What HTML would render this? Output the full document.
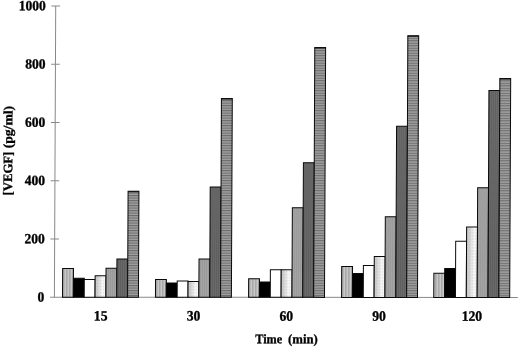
<!DOCTYPE html>
<html><head><meta charset="utf-8"><title>VEGF chart</title>
<style>
html,body{margin:0;padding:0;background:#fff;}
body{width:520px;height:347px;overflow:hidden;}
svg{display:block;}
text{font-family:"Liberation Serif","Times New Roman",serif;font-weight:bold;font-size:13px;fill:#000;stroke:#000;stroke-width:0.3px;}
</style></head><body>
<svg width="520" height="347" viewBox="0 0 520 347">
<defs>
<pattern id="p1" width="3" height="3" patternUnits="userSpaceOnUse"><rect width="3" height="3" fill="#c8c8c8"/><rect width="1.5" height="3" fill="#a8a8a8"/></pattern>
<linearGradient id="g4" x1="0" y1="0" x2="1" y2="0"><stop offset="0" stop-color="#c4c4c4"/><stop offset="0.35" stop-color="#dadada"/><stop offset="0.65" stop-color="#f4f4f4"/><stop offset="1" stop-color="#fbfbfb"/></linearGradient>
<pattern id="p4" width="3" height="3" patternUnits="userSpaceOnUse"><rect x="1" y="1" width="1.2" height="1.2" fill="#888" fill-opacity="0.3"/></pattern>
<pattern id="p5" width="2" height="2" patternUnits="userSpaceOnUse"><rect width="2" height="2" fill="#a6a6a6"/><rect width="1" height="2" fill="#9a9a9a"/></pattern>
<pattern id="p6" width="2" height="2" patternUnits="userSpaceOnUse"><rect width="2" height="2" fill="#6c6c6c"/><rect width="1" height="2" fill="#5e5e5e"/></pattern>
<pattern id="p7" width="2.5" height="2.5" patternUnits="userSpaceOnUse"><rect width="2.5" height="2.5" fill="#a2a2a2"/><rect width="2.5" height="1.1" fill="#6c6c6c"/></pattern>
</defs>
<rect width="520" height="347" fill="#fff"/>
<g transform="matrix(1,0.00065,-0.0045,1,1.337,-0.035)">

<g stroke="#888" stroke-width="1" fill="none">
<line x1="54.4" y1="6.0" x2="54.4" y2="297.2"/>
<line x1="50.1" y1="297.2" x2="517.8" y2="297.2"/>
<line x1="50.1" y1="6.0" x2="58.7" y2="6.0"/>
<line x1="50.1" y1="64.2" x2="58.7" y2="64.2"/>
<line x1="50.1" y1="122.5" x2="58.7" y2="122.5"/>
<line x1="50.1" y1="180.7" x2="58.7" y2="180.7"/>
<line x1="50.1" y1="239.0" x2="58.7" y2="239.0"/>
</g>
<g stroke="#0a0a0a" stroke-width="1">
<rect x="62.50" y="268.50" width="10.85" height="28.70" fill="url(#p1)"/>
<rect x="73.35" y="278.20" width="10.85" height="19.00" fill="#000"/>
<rect x="84.20" y="279.40" width="10.85" height="17.80" fill="#fff"/>
<rect x="95.05" y="275.70" width="10.85" height="21.50" fill="url(#g4)"/>
<rect x="95.55" y="276.20" width="9.85" height="20.50" fill="url(#p4)" stroke="none"/>
<rect x="105.90" y="268.20" width="10.85" height="29.00" fill="url(#p5)"/>
<rect x="116.75" y="258.90" width="10.85" height="38.30" fill="url(#p6)"/>
<rect x="127.60" y="191.20" width="10.85" height="106.00" fill="url(#p7)"/>
<rect x="127.60" y="191.20" width="10.85" height="1.0" fill="#111" stroke="none"/>
<rect x="155.45" y="279.40" width="10.85" height="17.80" fill="url(#p1)"/>
<rect x="166.30" y="283.00" width="10.85" height="14.20" fill="#000"/>
<rect x="177.15" y="280.80" width="10.85" height="16.40" fill="#fff"/>
<rect x="188.00" y="281.40" width="10.85" height="15.80" fill="url(#g4)"/>
<rect x="188.50" y="281.90" width="9.85" height="14.80" fill="url(#p4)" stroke="none"/>
<rect x="198.85" y="258.80" width="10.85" height="38.40" fill="url(#p5)"/>
<rect x="209.70" y="187.00" width="10.85" height="110.20" fill="url(#p6)"/>
<rect x="220.55" y="98.40" width="10.85" height="198.80" fill="url(#p7)"/>
<rect x="220.55" y="98.40" width="10.85" height="1.0" fill="#111" stroke="none"/>
<rect x="248.55" y="278.50" width="10.85" height="18.70" fill="url(#p1)"/>
<rect x="259.40" y="281.80" width="10.85" height="15.40" fill="#000"/>
<rect x="270.25" y="269.60" width="10.85" height="27.60" fill="#fff"/>
<rect x="281.10" y="269.60" width="10.85" height="27.60" fill="url(#g4)"/>
<rect x="281.60" y="270.10" width="9.85" height="26.60" fill="url(#p4)" stroke="none"/>
<rect x="291.95" y="207.50" width="10.85" height="89.70" fill="url(#p5)"/>
<rect x="302.80" y="162.50" width="10.85" height="134.70" fill="url(#p6)"/>
<rect x="313.65" y="47.30" width="10.85" height="249.90" fill="url(#p7)"/>
<rect x="313.65" y="47.30" width="10.85" height="1.0" fill="#111" stroke="none"/>
<rect x="341.55" y="266.40" width="10.85" height="30.80" fill="url(#p1)"/>
<rect x="352.40" y="273.20" width="10.85" height="24.00" fill="#000"/>
<rect x="363.25" y="265.30" width="10.85" height="31.90" fill="#fff"/>
<rect x="374.10" y="256.20" width="10.85" height="41.00" fill="url(#g4)"/>
<rect x="374.60" y="256.70" width="9.85" height="40.00" fill="url(#p4)" stroke="none"/>
<rect x="384.95" y="216.60" width="10.85" height="80.60" fill="url(#p5)"/>
<rect x="395.80" y="126.00" width="10.85" height="171.20" fill="url(#p6)"/>
<rect x="406.65" y="35.40" width="10.85" height="261.80" fill="url(#p7)"/>
<rect x="406.65" y="35.40" width="10.85" height="1.0" fill="#111" stroke="none"/>
<rect x="433.75" y="273.10" width="10.85" height="24.10" fill="url(#p1)"/>
<rect x="444.60" y="268.30" width="10.85" height="28.90" fill="#000"/>
<rect x="455.45" y="241.00" width="10.85" height="56.20" fill="#fff"/>
<rect x="466.30" y="226.80" width="10.85" height="70.40" fill="url(#g4)"/>
<rect x="466.80" y="227.30" width="9.85" height="69.40" fill="url(#p4)" stroke="none"/>
<rect x="477.15" y="187.50" width="10.85" height="109.70" fill="url(#p5)"/>
<rect x="488.00" y="90.30" width="10.85" height="206.90" fill="url(#p6)"/>
<rect x="498.85" y="78.10" width="10.85" height="219.10" fill="url(#p7)"/>
<rect x="498.85" y="78.10" width="10.85" height="1.0" fill="#111" stroke="none"/>
</g>
<text transform="translate(44.4,10.3) scale(1.04,1.08)" text-anchor="end">1000</text>
<text transform="translate(44.4,68.5) scale(1.04,1.08)" text-anchor="end">800</text>
<text transform="translate(44.4,126.8) scale(1.04,1.08)" text-anchor="end">600</text>
<text transform="translate(44.4,185.0) scale(1.04,1.08)" text-anchor="end">400</text>
<text transform="translate(44.4,243.3) scale(1.04,1.08)" text-anchor="end">200</text>
<text transform="translate(44.4,301.5) scale(1.04,1.08)" text-anchor="end">0</text>
<text transform="translate(100.8,320.5) scale(1.05,1.1)" text-anchor="middle">15</text>
<text transform="translate(193.6,320.5) scale(1.05,1.1)" text-anchor="middle">30</text>
<text transform="translate(286.4,320.5) scale(1.05,1.1)" text-anchor="middle">60</text>
<text transform="translate(379.2,320.5) scale(1.05,1.1)" text-anchor="middle">90</text>
<text transform="translate(472.0,320.5) scale(1.05,1.1)" text-anchor="middle">120</text>
<text transform="translate(255.5,343.2) scale(0.94,1.0)" text-anchor="start">Time</text>
<text transform="translate(318.0,343.2) scale(0.98,1.0)" text-anchor="end">(min)</text>
<text transform="translate(11.6,195.6) rotate(-90) scale(0.982,1.0)">[VEGF]</text>
<text transform="translate(11.6,148.4) rotate(-90) scale(1.053,1.0)">(pg/ml)</text>
</g></svg></body></html>
